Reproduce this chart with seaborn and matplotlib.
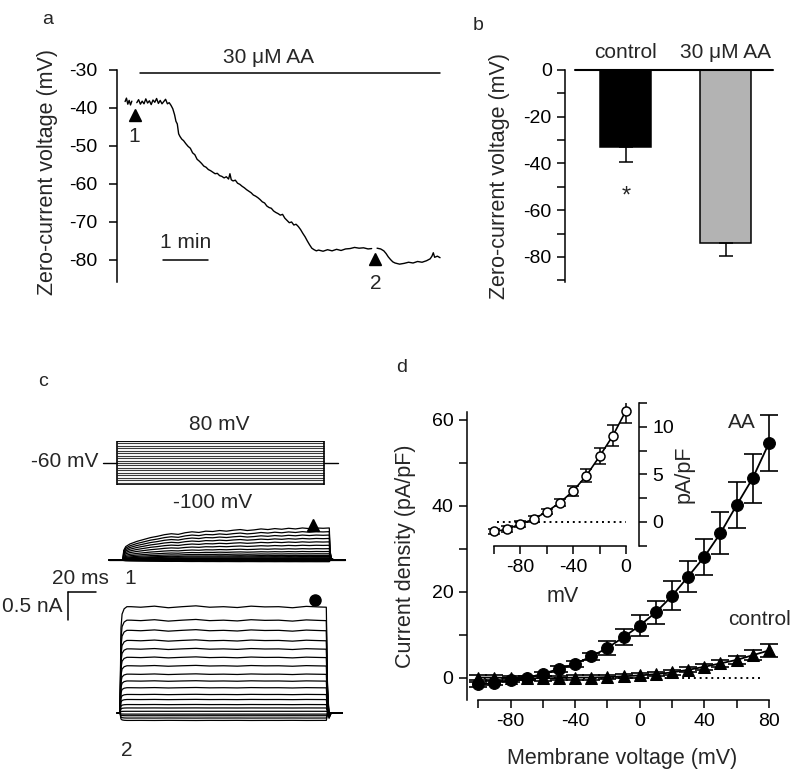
import numpy as np
import pandas as pd
import matplotlib
matplotlib.use("Agg")
from matplotlib import pyplot as plt
import seaborn as sns

sns.set_style("ticks")
plt.rcParams['font.family'] = ['Liberation Sans', 'DejaVu Sans']
plt.rcParams['font.size'] = 15
plt.rcParams['xtick.labelsize'] = 14
plt.rcParams['ytick.labelsize'] = 14
plt.rcParams['axes.labelsize'] = 15.5
plt.rcParams['axes.unicode_minus'] = False
plt.rcParams['axes.linewidth'] = 1.1
for ax_name in ['xtick', 'ytick']:
    for kind in ['major', 'minor']:
        plt.rcParams[f'{ax_name}.{kind}.width'] = 1.1
        plt.rcParams[f'{ax_name}.{kind}.size'] = 6
    plt.rcParams[f'{ax_name}.color'] = 'black'
plt.rcParams['axes.edgecolor'] = 'black'

# ---- panel a: zero-current voltage trace (min, mV) ----
trace_t = [0.00, 0.03, 0.06, 0.09, 0.12, 0.15, np.nan,
           0.26, 0.30, 0.34, 0.38, 0.42, 0.46, 0.50, 0.54, 0.58, 0.62, 0.66, 0.70,
           0.74, 0.78, 0.82, 0.86, 0.90, 0.94, 0.98, 1.02, 1.06, 1.10, 1.13, 1.16,
           1.19, 1.22, 1.26, 1.30, 1.35, 1.40, 1.45, 1.50, 1.55, 1.60, 1.65, 1.70,
           1.75, 1.80, 1.85, 1.90, 1.95, 2.00, 2.05, 2.10, 2.15, 2.20, 2.25, 2.30,
           2.33, 2.36, 2.40, 2.45, 2.50, 2.55, 2.60, 2.65, 2.70, 2.75, 2.80, 2.85,
           2.90, 2.95, 3.00, 3.05, 3.10, 3.15, 3.20, 3.25, 3.30, 3.35, 3.40, 3.45,
           3.50, 3.55, 3.60, 3.65, 3.70, 3.75, 3.80, 3.85, 3.90, 3.95, 4.00, 4.05,
           4.10, 4.15, 4.20, 4.25, 4.30, 4.40, 4.50, 4.60, 4.70, 4.80, 4.90, 5.00,
           5.10, 5.20, 5.30, 5.40, 5.48, np.nan,
           5.60, 5.68, 5.75, 5.80, 5.85, 5.90, 5.95, 6.00, 6.10, 6.20, 6.30, 6.40,
           6.50, 6.60, 6.70, 6.78, 6.82, 6.85, 6.88, 6.94, 7.00]
trace_v = [-38.3, -37.4, -39.0, -38.0, -39.2, -38.2, np.nan,
           -38.6, -37.8, -39.0, -38.2, -38.9, -37.6, -38.7, -38.1, -39.1, -37.9, -38.5, -37.5,
           -38.8, -38.0, -38.9, -38.3, -37.7, -38.9, -38.6, -39.3, -40.2, -41.8, -43.5, -44.2,
           -46.8, -47.5, -48.2, -48.6, -49.4, -50.1, -50.6, -51.8, -52.3, -53.5, -54.0, -54.6,
           -55.3, -55.6, -56.2, -56.5, -56.9, -57.3, -57.2, -57.8, -58.0, -58.4, -58.1, -58.7,
           -57.3, -58.9, -59.2, -59.0, -59.8, -60.1, -60.6, -61.0, -61.5, -61.9, -62.3, -62.9,
           -63.2, -63.6, -64.1, -64.7, -65.0, -65.8, -66.2, -66.4, -67.1, -67.5, -67.8, -68.2,
           -68.0, -69.0, -69.6, -70.2, -70.0, -70.8, -70.6, -71.2, -72.0, -73.0, -73.9, -75.0,
           -76.0, -76.9, -77.3, -77.6, -77.4, -77.7, -77.3, -77.6, -77.2, -77.5, -77.1, -77.0,
           -76.7, -76.9, -76.8, -77.1, -77.0, np.nan,
           -76.9, -77.1, -77.6, -78.3, -79.2, -79.9, -80.5, -80.8, -81.1, -80.9, -80.6, -80.8,
           -80.4, -80.6, -80.2, -79.7, -79.0, -78.1, -79.3, -79.0, -79.4]
aa_bar = [0.33, 7.0]          # drug application, min
mark1 = (0.22, -41.8)
mark2 = (5.56, -79.7)
scale_min = [0.84, 1.84]

# ---- panel b: zero-current voltage means ----
b_groups = ['control', '30 μM AA']
b_means = [-32.8, -74.0]
b_sem = [6.4, 5.6]
b_colors = ['black', '#b3b3b3']

# ---- panel c: protocol and current traces ----
step_mv = list(range(-100, 81, 10))
pulse_ms = 150
tr1_amp = [-0.03, -0.02, -0.01, 0.0, 0.01, 0.02, 0.03, 0.04, 0.06, 0.08,
           0.11, 0.15, 0.20, 0.26, 0.32, 0.38, 0.44, 0.50, 0.565]
tr2_amp = [-0.131, -0.089, -0.048, -0.02, 0.030, 0.089, 0.149, 0.238, 0.327,
           0.446, 0.565, 0.685, 0.833, 0.982, 1.131, 1.280, 1.458, 1.637, 1.875]
shape1_t = [-10, 0, 0.5, 2, 5, 10, 15, 20, 25, 30, 35, 40, 45, 50, 55, 60, 65, 70,
            75, 80, 85, 90, 95, 100, 105, 110, 115, 120, 125, 130, 135, 140, 145,
            149.5, 150, 151, 153, 161]
shape1_f = [0, 0, 0.30, 0.42, 0.50, 0.58, 0.64, 0.70, 0.74, 0.79, 0.82, 0.80, 0.85,
            0.88, 0.86, 0.90, 0.89, 0.92, 0.90, 0.93, 0.95, 0.92, 0.94, 0.97, 0.95,
            0.98, 0.96, 0.99, 0.97, 1.00, 0.98, 1.00, 0.99, 1.00, 0.30, 0.05, 0, 0]
shape2_t = [-2, 0, 0.7, 1.5, 3, 5, 8, 15, 25, 35, 45, 55, 65, 75, 85, 95, 105, 115,
            125, 135, 145, 149.5, 150.3, 151.5, 153, 161]
shape2_f = [0, 0, 0.80, 0.93, 0.98, 1.0, 1.0, 0.995, 1.005, 0.99, 1.0, 1.008, 0.995,
            1.0, 0.992, 1.005, 0.998, 1.0, 0.99, 1.003, 0.997, 0.995, 0.3, -0.05, 0, 0]

# ---- panel d: I-V relation (mV, pA/pF) ----
d_mv = list(range(-100, 81, 10))
d_aa = [-1.5, -1.2, -0.5, 0.0, 1.0, 2.1, 3.3, 5.0, 7.0, 9.5, 12.2, 15.3, 19.1,
        23.6, 28.2, 33.7, 40.2, 46.5, 54.6]
d_aa_err = [0.5, 0.5, 0.5, 0.5, 0.5, 0.6, 0.75, 0.85, 1.55, 1.9, 2.4, 2.7, 3.4,
            3.7, 4.2, 4.9, 5.3, 5.7, 6.5]
d_ctl = [0.1, 0.1, 0.0, 0.0, -0.1, 0.0, 0.1, 0.1, 0.2, 0.4, 0.6, 0.9, 1.3, 1.9,
         2.6, 3.4, 4.2, 5.3, 6.4]
d_ctl_err = [0.5, 0.5, 0.5, 0.5, 0.5, 0.5, 0.5, 0.5, 0.5, 0.5, 0.5, 0.5, 0.5, 0.6,
             0.7, 0.8, 1.0, 1.2, 1.45]
in_mv = list(range(-100, 1, 10))
in_diff = [-1.0, -0.77, -0.2, 0.28, 1.09, 2.03, 3.26, 4.88, 6.9, 9.05, 11.7]
in_err = [0.3, 0.3, 0.3, 0.3, 0.3, 0.4, 0.5, 0.65, 0.84, 1.1, 1.28]

W, H = 800, 775
fig = plt.figure(figsize=(W / 100, H / 100), dpi=100)


def px_box(l, t, r, b):
    return [l / W, 1 - b / H, (r - l) / W, (b - t) / H]


def px_text(x, y, s, **kw):
    kw.setdefault('ha', 'center')
    kw.setdefault('va', 'center')
    fig.text(x / W, 1 - y / H, s, **kw)


# panel a
ax_a = fig.add_axes(px_box(117, 62.4, 445, 282))
df_a = pd.DataFrame({'t': trace_t, 'v': trace_v})
df_a['seg'] = df_a['t'].isna().cumsum()
df_a = df_a.dropna()
sns.lineplot(data=df_a, x='t', y='v', units='seg', estimator=None,
             color='black', lw=1.0, ax=ax_a)
ax_a.plot(aa_bar, [-30.7, -30.7], color='black', lw=1.1, clip_on=False)
ax_a.text(3.18, -26.6, '30 μM AA', ha='center', va='center')
ax_a.plot(*mark1, marker='^', color='black', ms=8, clip_on=False)
ax_a.plot(*mark2, marker='^', color='black', ms=8, clip_on=False)
ax_a.text(mark1[0] - 0.02, -47.6, '1', ha='center', va='center')
ax_a.text(mark2[0] + 0.02, -86.2, '2', ha='center', va='center')
ax_a.plot(scale_min, [-80, -80], color='black', lw=1.1)
ax_a.text(np.mean(scale_min), -75.4, '1 min', ha='center', va='center')
ax_a.set_xlim(-0.18, 7.11)
ax_a.set_ylim(-85.8, -28)
ax_a.set_yticks(range(-80, -29, 10))
ax_a.tick_params(axis='y', pad=8)
ax_a.spines['left'].set_bounds(-85.8, -30)
for s in ['top', 'right', 'bottom']:
    ax_a.spines[s].set_visible(False)
ax_a.set_xticks([])
ax_a.set_xlabel('')
ax_a.set_ylabel('Zero-current voltage (mV)', labelpad=8)

# panel b
ax_b = fig.add_axes(px_box(565, 70, 773, 282))
sns.barplot(x=b_groups, y=b_means, hue=b_groups, palette=b_colors, width=0.51,
            edgecolor='black', linewidth=1.1, errorbar=None, legend=False, ax=ax_b)
ax_b.errorbar(range(len(b_groups)), b_means, yerr=[b_sem, [0, 0]], fmt='none',
              ecolor='black', elinewidth=1.1, capsize=5, capthick=1.1)
ax_b.axhline(0, xmin=10 / 208, color='black', lw=1.5, clip_on=False)
for i, g in enumerate(b_groups):
    ax_b.text(i, 7.3, g, ha='center', va='center')
ax_b.text(0.01, -54, '*', ha='center', va='center', fontsize=17)
ax_b.set_xlim(-0.605, 1.475)
ax_b.set_ylim(-90.7, 0)
ax_b.set_yticks(range(-80, 1, 20))
ax_b.set_yticks(range(-90, 0, 20), minor=True)
for s in ['top', 'right', 'bottom']:
    ax_b.spines[s].set_visible(False)
ax_b.set_xticks([])
ax_b.set_ylabel('Zero-current voltage (mV)', labelpad=10)

# panel c : protocol
px_ms = 1.38
ax_p = fig.add_axes(px_box(100, 441, 350, 485))
ax_p.hlines(step_mv, 0, pulse_ms, color='#3a3a3a', lw=0.8)
ax_p.hlines([step_mv[0], step_mv[-1]], 0, pulse_ms, color='black', lw=1.2)
ax_p.vlines([0, pulse_ms], step_mv[0], step_mv[-1], color='black', lw=1.2)
hold_draw = np.mean([step_mv[0], step_mv[-1]])
ax_p.plot([-10, 0], [hold_draw] * 2, color='black', lw=1.0)
ax_p.plot([pulse_ms, pulse_ms + 10], [hold_draw] * 2, color='black', lw=1.0)
ax_p.set_xlim((100 - 117) / px_ms, (350 - 117) / px_ms)
ax_p.set_ylim(-100, 80)
ax_p.axis('off')
px_text(219, 424, '80 mV')
px_text(213, 502, '-100 mV')
px_text(98, 462, '-60 mV', ha='right')


def sweeps(amps, st, sf):
    rows = []
    for k, a in enumerate(amps):
        for t, f in zip(st, sf):
            rows.append((k, t, a * f))
    return pd.DataFrame(rows, columns=['sweep', 't', 'i'])


ax_t1 = fig.add_axes(px_box(100, 515, 350, 575))
sns.lineplot(data=sweeps(tr1_amp, shape1_t, shape1_f), x='t', y='i', units='sweep',
             estimator=None, color='black', lw=0.9, ax=ax_t1)
ax_t1.plot(pulse_ms - 12, max(tr1_amp) + 0.06, marker='^', color='black', ms=8)
ax_t1.set_xlim((100 - 123) / px_ms, (350 - 123) / px_ms)
ax_t1.set_ylim(-15 / 56.7, 45 / 56.7)
ax_t1.axis('off')

ax_t2 = fig.add_axes(px_box(55, 585, 350, 735))
sns.lineplot(data=sweeps(tr2_amp, shape2_t, shape2_f), x='t', y='i', units='sweep',
             estimator=None, color='black', lw=0.9, ax=ax_t2)
ax_t2.plot(pulse_ms - 9, max(tr2_amp) + 0.12, marker='o', color='black', ms=8)
bar_x0 = (68 - 120) / px_ms
bar_y0 = (713 - 592) / 56.7
ax_t2.plot([bar_x0, bar_x0 + 20], [bar_y0, bar_y0], color='black', lw=1.1)
ax_t2.plot([bar_x0, bar_x0], [bar_y0, bar_y0 - 0.5], color='black', lw=1.1)
ax_t2.set_xlim((55 - 120) / px_ms, (350 - 120) / px_ms)
ax_t2.set_ylim(-22 / 56.7, 128 / 56.7)
ax_t2.axis('off')
px_text(80, 579, '20 ms')
px_text(63, 607, '0.5 nA', ha='right')
px_text(130, 578, '1')
px_text(127, 751, '2')

# panel d
ax_d = fig.add_axes(px_box(466.7, 411.7, 777, 700))
ax_d.plot([-100, 75], [0, 0], color='black', lw=1.4, ls=(0, (1, 2)))
ax_d.errorbar(d_mv, d_aa, yerr=d_aa_err, fmt='none', ecolor='black',
              elinewidth=1.2, capsize=6.5, capthick=1.2)
ax_d.errorbar(d_mv, d_ctl, yerr=d_ctl_err, fmt='none', ecolor='black',
              elinewidth=1.2, capsize=6.5, capthick=1.2)
sns.lineplot(x=d_mv, y=d_aa, color='black', marker='o', markersize=8.5, lw=1.3,
             markeredgecolor='black', ax=ax_d)
sns.lineplot(x=d_mv, y=d_ctl, color='black', marker='^', markersize=8, lw=1.3,
             markeredgecolor='black', ax=ax_d)
ax_d.text(63.3, 59.5, 'AA', ha='center', va='center')
ax_d.text(74.4, 13.5, 'control', ha='center', va='center')
ax_d.set_xlim(-107.2, 85)
ax_d.set_ylim(-5.12, 61.93)
ax_d.set_xticks([-80, -40, 0, 40, 80])
ax_d.set_xticks([-100, -60, -20, 20, 60], minor=True)
ax_d.set_yticks([0, 20, 40, 60])
ax_d.set_yticks([10, 30, 50], minor=True)
ax_d.spines['bottom'].set_bounds(-100, 80)
for s in ['top', 'right']:
    ax_d.spines[s].set_visible(False)
ax_d.set_xlabel('Membrane voltage (mV)', labelpad=13)
ax_d.set_ylabel('Current density (pA/pF)', labelpad=11)

# inset
ax_in = fig.add_axes(px_box(487, 403, 639, 545.75))
ax_in.patch.set_alpha(0)
ax_in.plot([-98, 0], [0, 0], color='black', lw=1.4, ls=(0, (1, 2)))
ax_in.errorbar(in_mv, in_diff, yerr=in_err, fmt='none', ecolor='black',
               elinewidth=1.1, capsize=4.5, capthick=1.1)
sns.lineplot(x=in_mv, y=in_diff, color='black', marker='o', markersize=6.5, lw=1.2,
             markerfacecolor='white', markeredgecolor='black', markeredgewidth=1.1,
             ax=ax_in)
ax_in.set_xlim(-105.3, 9.85)
ax_in.set_ylim(-2.5, 12.5)
ax_in.set_xticks([-80, -40, 0])
ax_in.set_xticks([-100, -60, -20], minor=True)
ax_in.set_yticks([0, 5, 10])
ax_in.set_yticks([-2.5, 2.5, 7.5, 12.5], minor=True)
ax_in.yaxis.tick_right()
ax_in.yaxis.set_label_position('right')
ax_in.spines['left'].set_visible(False)
ax_in.spines['top'].set_visible(False)
ax_in.spines['right'].set_bounds(-2.5, 12.5)
ax_in.spines['bottom'].set_bounds(-100, 0)
ax_in.set_xlabel('mV', labelpad=7)
ax_in.set_ylabel('pA/pF', rotation=90, labelpad=0)

px_text(48, 20, 'a', fontsize=14)
px_text(478, 25, 'b', fontsize=14)
px_text(43, 382, 'c', fontsize=14)
px_text(402, 367, 'd', fontsize=14)

fig.savefig('out.png', dpi=100)
